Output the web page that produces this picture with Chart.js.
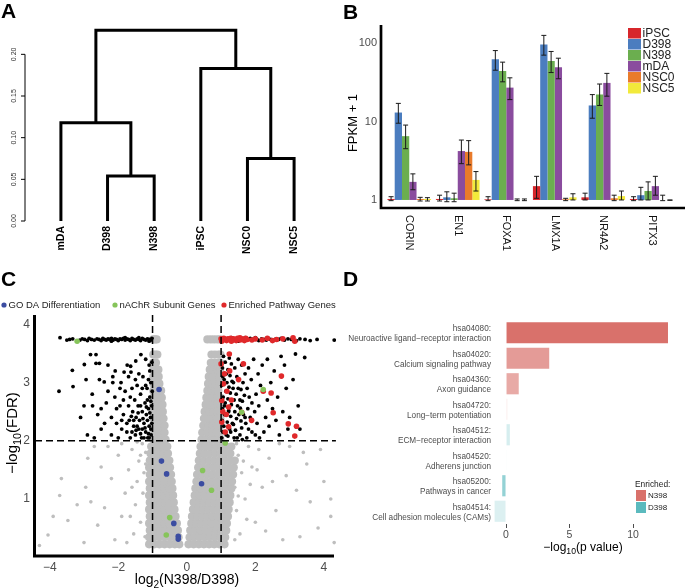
<!DOCTYPE html>
<html>
<head>
<meta charset="utf-8">
<script src="https://cdn.jsdelivr.net/npm/chart.js@4.4.0/dist/chart.umd.min.js"></script>
<style>
  body { margin: 0; background: #fff; }
  #wrap { position: relative; width: 685px; height: 588px; overflow: hidden; }
  canvas { position: absolute; }
  .tag { position: absolute; font: bold 21px "Liberation Sans", Arial, sans-serif; line-height: 21px; color: #000; }
</style>
</head>
<body>
<div id="wrap">
  <canvas id="dendro" width="340" height="290" style="left:0;top:0"></canvas>
  <canvas id="expr" width="345" height="290" style="left:340px;top:0"></canvas>
  <canvas id="volcano" width="340" height="298" style="left:0;top:290px"></canvas>
  <canvas id="kegg" width="345" height="298" style="left:340px;top:290px"></canvas>
  <div class="tag" style="left:1px;top:0">A</div>
  <div class="tag" style="left:343px;top:1px">B</div>
  <div class="tag" style="left:1px;top:268px">C</div>
  <div class="tag" style="left:343px;top:268px">D</div>
</div>
<script>
// ---- A: dendrogram (R hclust style merges: negative = leaf, positive = earlier merge)
const leafNames = ['mDA', 'D398', 'N398', 'iPSC', 'NSC0', 'NSC5'];
const mergeLeft = [-2, -5, -1, -4, 3];
const mergeRight = [-3, -6, 1, 2, 4];
const mergeHeight = [0.054, 0.075, 0.118, 0.183, 0.229];
const dendroTicks = [0, 0.05, 0.1, 0.15, 0.2];

// ---- B: FPKM + 1, rows = samples, columns = genes
const genes = ['CORIN', 'EN1', 'FOXA1', 'LMX1A', 'NR4A2', 'PITX3'];
const samples = ['iPSC', 'D398', 'N398', 'mDA', 'NSC0', 'NSC5'];
const sampleColors = ['#D7262B', '#4B7DBF', '#6BAE4F', '#8A4C9E', '#E97B2B', '#F2EA3B'];
const fpkmMean = [
  [1.03, 1.03, 1.02, 1.5, 1.08, 1.03],
  [13, 1.08, 62, 96, 16, 1.15],
  [6.5, 1.05, 44, 59, 22, 1.3],
  [1.7, 4.2, 27, 49, 31, 1.5],
  [1.03, 4.1, 1.0, 1.02, 1.05, 1.0],
  [1.03, 1.8, 1.0, 1.08, 1.12, 1.0]
];
const fpkmLow = [
  [0.98, 0.97, 0.98, 1.05, 1.0, 0.98],
  [9.5, 0.95, 45, 70, 11, 1.0],
  [4.5, 0.95, 32, 42, 16, 1.0],
  [1.35, 2.9, 19, 35, 21, 1.15],
  [0.97, 2.8, 0.98, 0.98, 0.98, 0.98],
  [0.97, 1.3, 0.98, 1.0, 1.0, 0.99]
];
const fpkmHigh = [
  [1.1, 1.15, 1.1, 2.0, 1.22, 1.1],
  [17, 1.27, 80, 125, 22, 1.45],
  [9, 1.22, 57, 78, 30, 1.7],
  [2.15, 5.8, 36, 64, 41, 2.0],
  [1.08, 5.7, 1.03, 1.05, 1.15, 1.15],
  [1.07, 2.3, 1.03, 1.2, 1.3, 1.0]
];
const fpkmTicks = [1, 10, 100];

// ---- C: volcano, points are [log2FC, -log10 FDR]
const volcanoLegend = ['GO DA Differentiation', 'nAChR Subunit Genes', 'Enriched Pathway Genes'];
const volcanoColors = ['#3B4CA1', '#86C45A', '#E0292B'];
// dense grey V: each row is [y, x, x, ...]
const grayCoreRows = [
  [0.22, -1.1, -0.95, -0.8, -0.65, -0.5, -0.35, -0.22, 0.05, 0.2, 0.35, 0.5, 0.65, 0.8, 0.95, 1.1],
  [0.34, -1.1, -0.95, -0.8, -0.65, -0.5, -0.36, -0.24, 0.08, 0.22, 0.37, 0.52, 0.67, 0.82, 0.97, 1.12],
  [0.46, -1.08, -0.93, -0.78, -0.63, -0.48, -0.35, -0.26, 0.1, 0.25, 0.4, 0.55, 0.7, 0.85, 1.0, 1.15],
  [0.58, -1.1, -0.95, -0.8, -0.65, -0.5, -0.38, -0.29, 0.13, 0.27, 0.42, 0.57, 0.72, 0.87, 1.02, 1.17],
  [0.70, -1.08, -0.93, -0.78, -0.63, -0.48, -0.33, 0.15, 0.3, 0.45, 0.6, 0.75, 0.9, 1.05, 1.2],
  [0.82, -1.1, -0.95, -0.8, -0.65, -0.5, -0.36, 0.18, 0.32, 0.47, 0.62, 0.77, 0.92, 1.07, 1.22],
  [0.94, -1.08, -0.93, -0.78, -0.63, -0.5, -0.38, 0.2, 0.35, 0.5, 0.65, 0.8, 0.95, 1.1, 1.25],
  [1.06, -1.1, -0.95, -0.8, -0.66, -0.52, -0.4, 0.23, 0.37, 0.52, 0.67, 0.82, 0.97, 1.12, 1.27],
  [1.18, -1.08, -0.93, -0.79, -0.65, -0.52, -0.42, 0.25, 0.4, 0.55, 0.7, 0.85, 1.0, 1.15, 1.3],
  [1.30, -1.1, -0.95, -0.8, -0.66, -0.54, -0.44, 0.28, 0.42, 0.57, 0.72, 0.87, 1.02, 1.17, 1.32],
  [1.42, -1.08, -0.93, -0.8, -0.67, -0.55, -0.46, 0.3, 0.45, 0.6, 0.75, 0.9, 1.05, 1.2, 1.35],
  [1.54, -1.1, -0.95, -0.82, -0.7, -0.58, -0.49, 0.33, 0.47, 0.62, 0.77, 0.92, 1.07, 1.22, 1.37],
  [1.66, -1.08, -0.94, -0.82, -0.7, -0.6, -0.51, 0.35, 0.5, 0.65, 0.8, 0.95, 1.1, 1.25, 1.4],
  [1.78, -1.06, -0.93, -0.8, -0.68, -0.55, 0.38, 0.52, 0.67, 0.82, 0.97, 1.12, 1.27],
  [1.90, -1.04, -0.92, -0.8, -0.68, -0.57, 0.4, 0.55, 0.7, 0.85, 1.0, 1.15, 1.3],
  [2.02, -0.98, -0.86, -0.74, -0.62, 0.43, 0.57, 0.72, 0.86, 0.98],
  [2.14, -0.98, -0.87, -0.76, -0.65, 0.45, 0.6, 0.74, 0.87, 0.98],
  [2.26, -0.98, -0.87, -0.76, -0.65, 0.48, 0.62, 0.75, 0.88, 0.98],
  [2.38, -0.98, -0.88, -0.78, -0.68, 0.5, 0.63, 0.76, 0.88, 0.98],
  [2.50, -0.98, -0.88, -0.78, -0.7, 0.52, 0.65, 0.78, 0.89, 0.98],
  [2.62, -0.98, -0.88, -0.79, -0.71, 0.55, 0.67, 0.79, 0.9, 0.98],
  [2.74, -0.98, -0.89, -0.8, -0.73, 0.57, 0.69, 0.8, 0.9, 0.98],
  [2.86, -0.98, -0.89, -0.81, -0.75, 0.6, 0.71, 0.82, 0.92],
  [2.98, -0.98, -0.89, -0.8, 0.62, 0.73, 0.84, 0.94],
  [3.10, -0.98, -0.9, -0.82, 0.64, 0.75, 0.86, 0.96],
  [3.22, -0.98, -0.9, -0.83, 0.67, 0.78, 0.88, 0.97],
  [3.34, -0.98, -0.9, 0.7, 0.8, 0.9, 0.98],
  [3.48, -0.98, -0.92, -0.86, 0.72, 0.82, 0.92, 0.98],
  [3.74, -0.98, -0.93, -0.88, 0.6, 0.7, 0.8, 0.9, 0.98]
];
const grayScatter = [
  [-4.05, 0.38], [-3.47, 0.63], [-3.71, 1.06], [-3.66, 1.35], [-2.89, 1.7], [-2.95, 1.2], [-3.2, 0.9], [-2.6, 0.55],
  [-2.4, 0.85], [-2.2, 1.35], [-2.5, 1.55], [-2.0, 1.75], [-1.8, 1.1], [-1.9, 0.7], [-1.7, 1.5], [-1.6, 1.85],
  [-1.5, 0.9], [-1.45, 1.3], [-1.4, 1.65], [-1.35, 0.6], [-1.3, 1.95], [-1.28, 1.1], [-1.25, 1.45], [-1.22, 0.35],
  [-1.2, 1.8], [-1.55, 0.4], [-1.75, 0.25], [-2.1, 0.3], [-3.0, 0.25], [-2.7, 1.9], [-3.9, 0.7], [-4.3, 0.2],
  [-1.65, 0.7], [-1.35, 1.75], [-1.45, 1.98], [-1.9, 1.95], [-2.3, 1.9], [-1.2, 1.6], [-1.6, 1.2], [-2.8, 0.95],
  [3.83, 0.5], [4.2, 0.7], [3.6, 0.95], [3.2, 1.15], [3.5, 1.6], [2.9, 1.4], [2.6, 0.8], [2.4, 1.7],
  [2.2, 1.2], [2.0, 0.6], [1.9, 1.55], [1.8, 1.9], [1.7, 1.0], [1.6, 1.45], [1.55, 0.4], [1.5, 1.75],
  [1.45, 0.8], [1.45, 1.95], [1.4, 1.2], [1.4, 0.3], [2.7, 1.95], [3.0, 1.9], [4.0, 1.3], [4.3, 0.25],
  [3.3, 0.35], [2.8, 0.3], [2.3, 0.45], [1.65, 1.65], [2.1, 1.85], [1.75, 0.65], [2.5, 1.3], [3.9, 1.85],
  [1.5, 1.05], [1.85, 1.25], [2.05, 1.5], [3.4, 1.8], [4.2, 1.0]
];
const blackPts = [
  // saturated top band
  [-3.7, 3.77], [-3.5, 3.73], [-3.42, 3.74], [-3.33, 3.75], [-3.12, 3.73], [-3.05, 3.75], [-2.98, 3.74], [-2.9, 3.72],
  [-2.85, 3.76], [-2.78, 3.74], [-2.7, 3.73], [-2.62, 3.75], [-2.56, 3.74], [-2.5, 3.72], [-2.45, 3.76], [-2.4, 3.74],
  [-2.35, 3.73], [-2.3, 3.75], [-2.25, 3.74], [-2.2, 3.76], [-2.15, 3.73], [-2.1, 3.75], [-2.05, 3.74], [-2.0, 3.72],
  [-1.95, 3.75], [-1.9, 3.74], [-1.85, 3.76], [-1.8, 3.73], [-1.75, 3.75], [-1.7, 3.74], [-1.65, 3.72], [-1.6, 3.76],
  [-1.55, 3.74], [-1.5, 3.73], [-1.45, 3.75], [-1.4, 3.74], [-1.35, 3.72], [-1.3, 3.76], [-1.25, 3.74], [-1.2, 3.73],
  [-1.15, 3.75], [-1.1, 3.74], [-1.05, 3.73], [-1.02, 3.76], [-1.8, 3.77], [-2.2, 3.71], [-1.4, 3.77], [-1.1, 3.71],
  [1.8, 3.74], [1.85, 3.76], [1.9, 3.73], [1.95, 3.75], [2.0, 3.77], [2.05, 3.74], [2.1, 3.72], [2.18, 3.75],
  [2.25, 3.74], [2.32, 3.73], [2.38, 3.76], [2.45, 3.74], [2.52, 3.72], [2.6, 3.75], [2.68, 3.74], [2.75, 3.76],
  [2.85, 3.73], [2.95, 3.75], [3.05, 3.74], [3.2, 3.72], [3.3, 3.75], [3.45, 3.74], [3.6, 3.72], [3.8, 3.74],
  [4.3, 3.73], [1.3, 3.77], [1.5, 3.71], [1.7, 3.77],
  // left, FDR < 0.01
  [-3.73, 2.85], [-3.32, 2.93], [-3.34, 3.21], [-2.81, 3.48], [-2.65, 3.48], [-2.99, 3.31], [-2.65, 3.33], [-2.55, 3.33],
  [-2.94, 3.05], [-2.55, 3.05], [-2.76, 2.8], [-2.41, 3.01], [-2.16, 3.0], [-2.16, 3.1], [-2.09, 3.2], [-1.92, 3.0],
  [-1.74, 3.3], [-1.64, 3.28], [-1.83, 3.18], [-1.63, 3.18], [-1.49, 3.37], [-1.34, 3.48], [-1.2, 3.4], [-1.1, 3.3],
  [-2.9, 2.1], [-2.7, 2.05], [-2.5, 2.55], [-2.35, 2.65], [-2.2, 2.4], [-2.1, 2.75], [-2.05, 2.3], [-1.95, 2.6],
  [-1.9, 2.2], [-1.85, 2.45], [-1.8, 2.85], [-1.75, 2.15], [-1.7, 2.6], [-1.68, 2.35], [-1.65, 2.05], [-1.6, 2.9],
  [-1.58, 2.5], [-1.55, 2.25], [-1.52, 2.7], [-1.5, 2.1], [-1.48, 2.4], [-1.45, 2.95], [-1.42, 2.6], [-1.4, 2.2],
  [-1.38, 2.35], [-1.35, 2.8], [-1.32, 2.05], [-1.3, 2.5], [-1.28, 3.1], [-1.25, 2.3], [-1.22, 2.65], [-1.2, 2.15],
  [-1.18, 2.45], [-1.16, 2.9], [-1.14, 2.05], [-1.12, 2.55], [-1.1, 2.25], [-1.08, 2.75], [-1.06, 2.4], [-1.05, 3.0],
  [-1.04, 2.1], [-1.03, 2.6], [-1.02, 2.3], [-1.01, 2.85], [-1.3, 2.2], [-1.55, 2.35], [-1.75, 2.3], [-1.45, 2.25],
  [-1.15, 2.35], [-1.1, 2.05], [-1.25, 2.05], [-1.6, 2.15], [-1.9, 2.35], [-2.2, 2.1], [-2.4, 2.3], [-2.6, 2.45],
  [-2.05, 2.55], [-1.95, 2.9], [-1.35, 2.6], [-1.08, 3.2], [-1.15, 2.7], [-1.65, 2.75], [-1.85, 2.7], [-2.3, 2.85],
  [-2.5, 2.2], [-3.0, 2.6], [-3.1, 2.4], [-2.75, 2.6], [-1.4, 3.15], [-1.2, 2.95], [-1.02, 3.35], [-1.5, 3.05],
  [-1.7, 3.1], [-2.3, 3.3], [-1.12, 2.12], [-1.22, 2.22], [-1.35, 2.12], [-1.05, 2.2], [-1.18, 2.58], [-1.42, 2.48],
  [-1.28, 2.38], [-1.08, 2.48], [-1.62, 2.42], [-1.05, 2.68], [-1.48, 2.18], [-1.3, 2.9], [-1.12, 3.05], [-2.0, 2.05],
  // right, FDR < 0.01
  [1.02, 2.05], [1.05, 2.15], [1.08, 2.25], [1.03, 2.35], [1.1, 2.45], [1.04, 2.55], [1.12, 2.65], [1.06, 2.75],
  [1.14, 2.85], [1.02, 2.95], [1.09, 3.05], [1.15, 3.15], [1.04, 3.25], [1.12, 3.35], [1.07, 3.45],
  [1.2, 2.08], [1.25, 2.2], [1.18, 2.32], [1.28, 2.42], [1.22, 2.52], [1.3, 2.62], [1.2, 2.72], [1.27, 2.82],
  [1.23, 2.92], [1.32, 3.02], [1.26, 3.12], [1.2, 3.22], [1.3, 3.32], [1.24, 3.42],
  [1.38, 2.05], [1.42, 2.18], [1.36, 2.28], [1.45, 2.38], [1.4, 2.5], [1.48, 2.6], [1.38, 2.7], [1.44, 2.8],
  [1.5, 2.9], [1.36, 3.0], [1.46, 3.1], [1.4, 3.25], [1.5, 3.4],
  [1.55, 2.1], [1.6, 2.22], [1.58, 2.34], [1.65, 2.45], [1.56, 2.56], [1.62, 2.68], [1.68, 2.78], [1.58, 2.88],
  [1.64, 3.0], [1.7, 3.15], [1.6, 3.3],
  [1.75, 2.05], [1.8, 2.2], [1.72, 2.3], [1.85, 2.4], [1.78, 2.55], [1.9, 2.65], [1.82, 2.75], [1.76, 2.9],
  [1.88, 3.05], [1.8, 3.25], [1.95, 3.4],
  [2.0, 2.1], [2.05, 2.3], [1.98, 2.5], [2.1, 2.6], [2.02, 2.8], [2.15, 2.95], [2.08, 3.15], [2.2, 3.3],
  [2.25, 2.15], [2.3, 2.4], [2.35, 2.7], [2.4, 2.25], [2.45, 3.0], [2.5, 2.55], [2.6, 2.35], [2.55, 3.2],
  [2.65, 2.75], [2.7, 2.1], [2.8, 2.5], [2.85, 3.3], [2.9, 2.9], [3.0, 2.4], [3.1, 3.05], [3.25, 2.6],
  [3.44, 3.43], [3.17, 3.49], [2.95, 2.2], [3.3, 2.2], [2.75, 3.45], [2.35, 3.4],
  [1.15, 2.1], [1.33, 2.3], [1.52, 2.45], [1.7, 2.4], [1.28, 2.15], [1.47, 2.05], [1.9, 2.15], [2.12, 2.05],
  [1.05, 3.1], [1.17, 3.0], [1.35, 2.9], [1.55, 2.7], [1.1, 2.6], [1.22, 2.5], [1.62, 2.02]
];
const redPts = [
  [1.0, 3.75], [1.04, 3.73], [1.08, 3.76], [1.12, 3.74], [1.16, 3.72], [1.2, 3.75], [1.24, 3.74], [1.28, 3.76],
  [1.32, 3.73], [1.36, 3.75], [1.4, 3.74], [1.44, 3.72], [1.48, 3.76], [1.52, 3.74], [1.56, 3.73], [1.6, 3.75],
  [1.64, 3.74], [1.68, 3.72], [1.72, 3.76], [1.76, 3.74], [1.9, 3.73], [2.0, 3.75], [2.2, 3.73], [2.35, 3.76],
  [2.5, 3.72], [2.62, 3.74], [2.8, 3.75], [3.1, 3.77], [3.15, 3.71], [1.02, 3.71], [1.3, 3.71], [1.55, 3.77],
  [1.24, 3.49], [1.0, 3.32], [1.65, 3.32], [1.1, 3.15], [1.51, 3.05], [2.76, 3.11], [1.07, 2.98], [2.23, 2.85],
  [1.17, 2.85], [1.02, 2.69], [1.22, 2.58], [1.6, 2.49], [2.52, 2.48], [1.89, 2.35], [1.02, 2.32], [1.22, 2.24],
  [2.96, 2.29], [3.2, 2.25], [3.15, 2.08], [1.15, 2.45], [1.3, 2.7], [1.05, 2.5], [1.25, 3.2], [1.12, 2.15],
  [2.46, 2.82]
];
const greenPts = [[-3.2, 3.71], [2.23, 2.88], [1.6, 2.49], [1.12, 1.96], [0.46, 1.49], [0.72, 1.15], [-0.5, 0.68], [-0.6, 0.38]];
const bluePts = [[-0.81, 2.88], [-0.74, 1.65], [-0.59, 1.43], [0.43, 1.26], [-0.38, 0.58], [-0.25, 0.36], [-0.25, 0.31]];

// ---- D: KEGG pathways
const pathIds = ['hsa04080:', 'hsa04020:', 'hsa04360:', 'hsa04720:', 'hsa04512:', 'hsa04520:', 'hsa05200:', 'hsa04514:'];
const pathNames = ['Neuroactive ligand\u2212receptor interaction', 'Calcium signaling pathway', 'Axon guidance',
  'Long\u2212term potentiation', 'ECM\u2212receptor interaction', 'Adherens junction', 'Pathways in cancer',
  'Cell adhesion molecules (CAMs)'];
const pathScore = [12.75, 3.4, 1.0, 0.1, 0.3, 0.05, -0.3, -0.9];
const pathGroup = ['N398', 'N398', 'N398', 'N398', 'D398', 'D398', 'D398', 'D398'];
const pathAlpha = [1, 0.7, 0.6, 0.15, 0.25, 0.07, 0.65, 0.21];
const groupNames = ['N398', 'D398'];
const groupRgb = ['217,113,107', '91,186,190'];

const FONT = '"Liberation Sans", Arial, sans-serif';
Chart.defaults.font.family = FONT;
const font = (size, bold) => (bold ? 'bold ' : '') + size + 'px ' + FONT;
const pts = list => list.map(p => ({ x: p[0], y: p[1] }));
const fixedTicks = vals => s => { s.ticks = vals.map(v => ({ value: v })); };
const minus = v => String(v).replace('-', '\u2212');
const quiet = { legend: { display: false }, tooltip: { enabled: false } };

// text with subscripts, centred on x, baseline y
function subText(ctx, parts, x, y, size, color) {
  let w = 0;
  parts.forEach(p => { ctx.font = font(p[1] ? size * 0.72 : size); w += ctx.measureText(p[0]).width; });
  let cx = x - w / 2;
  ctx.fillStyle = color;
  ctx.textAlign = 'left';
  ctx.textBaseline = 'alphabetic';
  parts.forEach(p => {
    ctx.font = font(p[1] ? size * 0.72 : size);
    ctx.fillText(p[0], cx, y + (p[1] ? size * 0.28 : 0));
    cx += ctx.measureText(p[0]).width;
  });
}

// ================= A =================
const nodeX = [];
const childPos = c => c < 0 ? [-c, 0] : [nodeX[c - 1], mergeHeight[c - 1]];
const dendroSets = mergeHeight.map((h, i) => {
  const [xl, hl] = childPos(mergeLeft[i]);
  const [xr, hr] = childPos(mergeRight[i]);
  nodeX.push((xl + xr) / 2);
  return {
    data: [{ x: xl, y: hl }, { x: xl, y: h }, { x: xr, y: h }, { x: xr, y: hr }],
    showLine: true, borderColor: '#000', borderWidth: 3, pointRadius: 0, tension: 0
  };
});

new Chart('dendro', {
  type: 'scatter',
  data: { datasets: dendroSets },
  options: {
    responsive: false, animation: false, events: [],
    layout: { padding: { left: 25, right: 10, top: 21, bottom: 69 } },
    scales: {
      x: { type: 'linear', min: 0.23, max: 6.77, display: false },
      y: { min: 0, max: 0.24, display: false }
    },
    plugins: quiet
  },
  plugins: [{
    id: 'dendroAxis',
    afterDraw(chart) {
      const ctx = chart.ctx, x = chart.scales.x, y = chart.scales.y, ax = chart.chartArea.left;
      ctx.save();
      ctx.strokeStyle = '#000';
      ctx.lineWidth = 1;
      ctx.beginPath();
      ctx.moveTo(ax, y.getPixelForValue(0));
      ctx.lineTo(ax, y.getPixelForValue(0.2));
      dendroTicks.forEach(t => { const py = y.getPixelForValue(t); ctx.moveTo(ax, py); ctx.lineTo(ax - 4, py); });
      ctx.stroke();
      ctx.fillStyle = '#333';
      ctx.font = font(7);
      ctx.textAlign = 'center';
      ctx.textBaseline = 'middle';
      dendroTicks.forEach(t => {
        ctx.save();
        ctx.translate(14, y.getPixelForValue(t));
        ctx.rotate(-Math.PI / 2);
        ctx.fillText(t.toFixed(2), 0, 0);
        ctx.restore();
      });
      ctx.fillStyle = '#000';
      ctx.font = font(10.5, true);
      ctx.textAlign = 'right';
      leafNames.forEach((n, i) => {
        ctx.save();
        ctx.translate(x.getPixelForValue(i + 1), 226);
        ctx.rotate(-Math.PI / 2);
        ctx.fillText(n, 0, 0);
        ctx.restore();
      });
      ctx.restore();
    }
  }]
});

// ================= B =================
new Chart('expr', {
  type: 'bar',
  data: {
    labels: genes,
    datasets: samples.map((s, i) => ({
      label: s,
      data: fpkmMean[i].map(v => [1, v]),
      backgroundColor: sampleColors[i],
      borderWidth: 0,
      categoryPercentage: 0.9,
      barPercentage: 1
    }))
  },
  options: {
    responsive: false, animation: false, events: [],
    layout: { padding: { left: 0, right: 9, top: 25, bottom: 0 } },
    scales: {
      x: {
        grid: { display: false, drawTicks: false }, border: { display: false },
        ticks: { display: false },
        afterFit: s => { s.height = 82; }
      },
      y: {
        type: 'logarithmic', min: 0.79, max: 169.5,
        afterBuildTicks: fixedTicks(fpkmTicks),
        grid: { display: false, drawTicks: false }, border: { display: false },
        ticks: { callback: v => String(v), font: { size: 11 }, color: '#4d4d4d', padding: 8 },
        afterFit: s => { s.width = 45; }
      }
    },
    plugins: quiet
  },
  plugins: [{
    id: 'exprDecor',
    afterDatasetsDraw(chart) {
      const ctx = chart.ctx, y = chart.scales.y;
      ctx.save();
      ctx.strokeStyle = '#1a1a1a';
      ctx.lineWidth = 1;
      samples.forEach((s, i) => {
        chart.getDatasetMeta(i).data.forEach((bar, j) => {
          const bx = bar.x, lo = y.getPixelForValue(fpkmLow[i][j]), hi = y.getPixelForValue(fpkmHigh[i][j]);
          ctx.beginPath();
          ctx.moveTo(bx, lo); ctx.lineTo(bx, hi);
          ctx.moveTo(bx - 2.5, lo); ctx.lineTo(bx + 2.5, lo);
          ctx.moveTo(bx - 2.5, hi); ctx.lineTo(bx + 2.5, hi);
          ctx.stroke();
        });
      });
      ctx.restore();
    },
    afterDraw(chart) {
      const ctx = chart.ctx, x = chart.scales.x, area = chart.chartArea;
      ctx.save();
      // axis lines
      ctx.strokeStyle = '#000';
      ctx.lineWidth = 2.7;
      ctx.beginPath();
      ctx.moveTo(41, area.top);
      ctx.lineTo(41, area.bottom + 1.3);
      ctx.moveTo(39.7, area.bottom);
      ctx.lineTo(345, area.bottom);
      ctx.stroke();
      // gene labels, rotated clockwise
      ctx.fillStyle = '#111';
      ctx.font = font(11);
      ctx.textAlign = 'left';
      ctx.textBaseline = 'middle';
      genes.forEach((g, i) => {
        ctx.save();
        ctx.translate(x.getPixelForValue(i), area.bottom + 7);
        ctx.rotate(Math.PI / 2);
        ctx.fillText(g, 0, 0);
        ctx.restore();
      });
      // y title
      ctx.save();
      ctx.translate(13, 123);
      ctx.rotate(-Math.PI / 2);
      ctx.font = font(13);
      ctx.fillStyle = '#000';
      ctx.textAlign = 'center';
      ctx.fillText('FPKM + 1', 0, 0);
      ctx.restore();
      // legend
      ctx.font = font(12);
      ctx.textBaseline = 'middle';
      samples.forEach((s, i) => {
        const top = 28 + i * 11;
        ctx.fillStyle = sampleColors[i];
        ctx.fillRect(288, top, 13, 10.5);
        ctx.fillStyle = '#222';
        ctx.fillText(s, 302.5, top + 5.5);
      });
      ctx.restore();
    }
  }]
});

// ================= C =================
const grayCore = [];
grayCoreRows.forEach(r => r.slice(1).forEach(xv => grayCore.push([xv, r[0]])));
const dot = (list, color, r, order) => ({
  data: pts(list), backgroundColor: color, pointBackgroundColor: color,
  pointRadius: r, pointBorderWidth: 0, order: order
});

new Chart('volcano', {
  type: 'scatter',
  data: {
    datasets: [
      dot(bluePts, volcanoColors[0], 2.8, 0),
      dot(greenPts, volcanoColors[1], 2.8, 1),
      dot(redPts, volcanoColors[2], 2.8, 2),
      dot(blackPts, '#000', 1.9, 3),
      dot(grayScatter, '#BEBEBE', 1.8, 4),
      dot(grayCore, '#BEBEBE', 4.1, 5)
    ]
  },
  options: {
    responsive: false, animation: false, events: [],
    layout: { padding: { left: 0, right: 2, top: 25, bottom: 0 } },
    scales: {
      x: {
        type: 'linear', min: -4.43, max: 4.35,
        afterBuildTicks: fixedTicks([-4, -2, 0, 2, 4]),
        grid: { display: false, drawTicks: false }, border: { display: false },
        ticks: { callback: minus, font: { size: 12 }, color: '#4d4d4d', padding: 4 },
        afterFit: s => { s.height = 32; }
      },
      y: {
        min: 0.02, max: 4.16,
        afterBuildTicks: fixedTicks([1, 2, 3, 4]),
        grid: { display: false, drawTicks: false }, border: { display: false },
        ticks: { font: { size: 12 }, color: '#4d4d4d', padding: 5 },
        afterFit: s => { s.width = 35; }
      }
    },
    plugins: quiet
  },
  plugins: [{
    id: 'volcanoDecor',
    afterDatasetsDraw(chart) {
      const ctx = chart.ctx, x = chart.scales.x, y = chart.scales.y, area = chart.chartArea;
      ctx.save();
      ctx.strokeStyle = '#000';
      ctx.lineWidth = 1.5;
      ctx.setLineDash([7, 4]);
      ctx.beginPath();
      [-1, 1].forEach(v => { const px = x.getPixelForValue(v); ctx.moveTo(px, area.top); ctx.lineTo(px, area.bottom); });
      const py = y.getPixelForValue(2);
      ctx.moveTo(area.left, py);
      ctx.lineTo(area.right, py);
      ctx.stroke();
      ctx.setLineDash([]);
      ctx.lineWidth = 3;
      ctx.beginPath();
      ctx.moveTo(34.5, area.top);
      ctx.lineTo(34.5, area.bottom + 1.5);
      ctx.moveTo(33, area.bottom);
      ctx.lineTo(334, area.bottom);
      ctx.stroke();
      // legend
      ctx.font = font(9.5);
      ctx.textBaseline = 'middle';
      ctx.textAlign = 'left';
      [4, 115, 224].forEach((lx, i) => {
        ctx.fillStyle = volcanoColors[i];
        ctx.beginPath();
        ctx.arc(lx, 15, 2.6, 0, Math.PI * 2);
        ctx.fill();
        ctx.fillStyle = '#222';
        ctx.fillText(volcanoLegend[i], lx + 4.5, 15);
      });
      // axis titles
      subText(ctx, [['log', false], ['2', true], ['(N398/D398)', false]], 187, 294, 14, '#000');
      ctx.translate(12, 143);
      ctx.rotate(-Math.PI / 2);
      subText(ctx, [['\u2212log', false], ['10', true], ['(FDR)', false]], 0, 5, 15, '#000');
      ctx.restore();
    }
  }]
});

// ================= D =================
new Chart('kegg', {
  type: 'bar',
  data: {
    labels: pathIds,
    datasets: [{
      data: pathScore,
      backgroundColor: pathGroup.map((g, i) => 'rgba(' + groupRgb[groupNames.indexOf(g)] + ',' + pathAlpha[i] + ')'),
      borderWidth: 0,
      barPercentage: 0.83,
      categoryPercentage: 1
    }]
  },
  options: {
    indexAxis: 'y',
    responsive: false, animation: false, events: [],
    layout: { padding: { left: 148, right: 8, top: 30, bottom: 0 } },
    scales: {
      x: {
        type: 'linear', min: -1.42, max: 13.46,
        afterBuildTicks: fixedTicks([0, 5, 10]),
        grid: { drawOnChartArea: false, drawTicks: true, tickLength: 4, color: '#4d4d4d' },
        border: { display: false },
        ticks: { font: { size: 10.5 }, color: '#4d4d4d', padding: 1 },
        afterFit: s => { s.height = 64; }
      },
      y: { display: false }
    },
    plugins: quiet
  },
  plugins: [{
    id: 'keggDecor',
    afterDraw(chart) {
      const ctx = chart.ctx, y = chart.scales.y;
      ctx.save();
      ctx.fillStyle = '#4d4d4d';
      ctx.font = font(8.2);
      ctx.textAlign = 'right';
      ctx.textBaseline = 'middle';
      pathIds.forEach((id, i) => {
        const cy = y.getPixelForValue(i);
        ctx.fillText(id, 151, cy - 4);
        ctx.fillText(pathNames[i], 151, cy + 6);
      });
      // legend
      ctx.textAlign = 'left';
      ctx.fillStyle = '#222';
      ctx.font = font(8.4);
      ctx.fillText('Enriched:', 295, 195);
      groupNames.forEach((g, i) => {
        ctx.fillStyle = 'rgb(' + groupRgb[i] + ')';
        ctx.fillRect(296, 200 + i * 12, 10, 11);
        ctx.fillStyle = '#222';
        ctx.font = font(8);
        ctx.fillText(g, 308, 205.5 + i * 12);
      });
      subText(ctx, [['\u2212log', false], ['10', true], ['(p value)', false]], 243, 261, 12, '#000');
      ctx.restore();
    }
  }]
});
</script>
</body>
</html>
